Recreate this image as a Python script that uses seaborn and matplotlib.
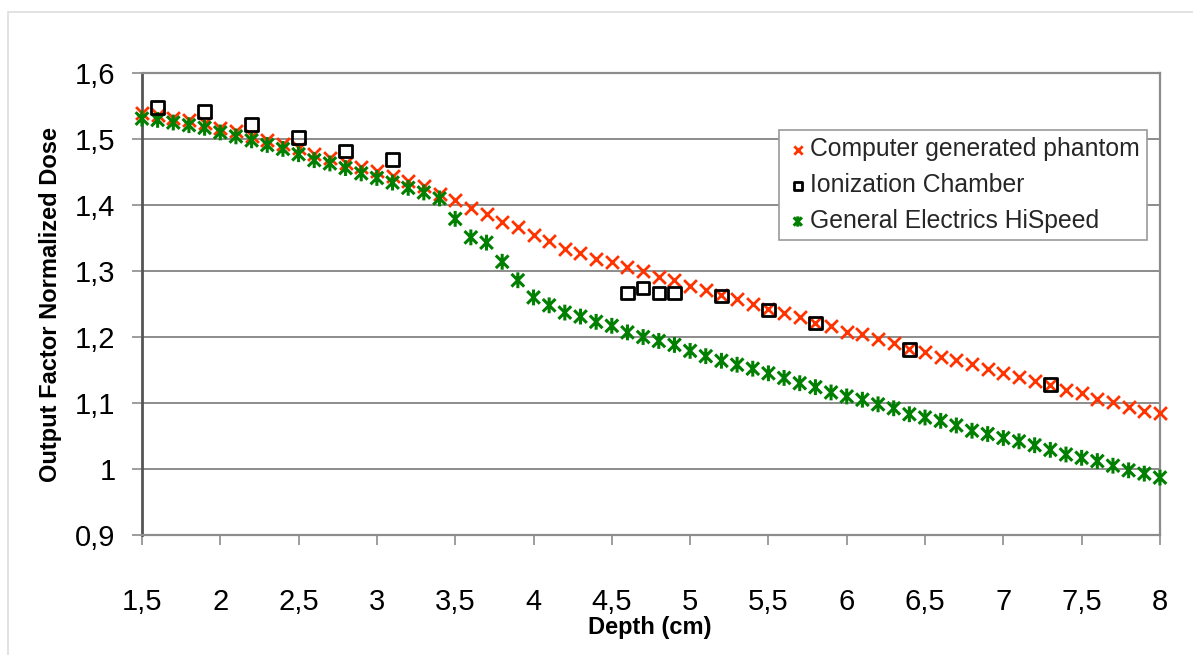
import matplotlib
matplotlib.use("Agg")
import matplotlib.pyplot as plt
from matplotlib.path import Path
from matplotlib.patches import Rectangle
import seaborn as sns
import pandas as pd

# Depth positions (cm) of the phantom and CT scanner series
depth = [1.5, 1.6, 1.7, 1.8, 1.9, 2.0, 2.1, 2.2, 2.3, 2.4, 2.5, 2.6, 2.7, 2.8,
         2.9, 3.0, 3.1, 3.2, 3.3, 3.4, 3.5, 3.6, 3.7, 3.8, 3.9, 4.0, 4.1, 4.2,
         4.3, 4.4, 4.5, 4.6, 4.7, 4.8, 4.9, 5.0, 5.1, 5.2, 5.3, 5.4, 5.5, 5.6,
         5.7, 5.8, 5.9, 6.0, 6.1, 6.2, 6.3, 6.4, 6.5, 6.6, 6.7, 6.8, 6.9, 7.0,
         7.1, 7.2, 7.3, 7.4, 7.5, 7.6, 7.7, 7.8, 7.9, 8.0]

phantom = [1.540, 1.536, 1.532, 1.529, 1.524, 1.517, 1.512, 1.505, 1.498, 1.493,
           1.487, 1.477, 1.471, 1.464, 1.457, 1.451, 1.444, 1.436, 1.429, 1.416,
           1.407, 1.395, 1.387, 1.374, 1.366, 1.355, 1.346, 1.334, 1.327, 1.318,
           1.313, 1.306, 1.300, 1.291, 1.286, 1.278, 1.271, 1.263, 1.258, 1.250,
           1.242, 1.237, 1.230, 1.221, 1.216, 1.208, 1.205, 1.197, 1.191, 1.182,
           1.177, 1.170, 1.165, 1.159, 1.152, 1.145, 1.140, 1.133, 1.128, 1.120,
           1.115, 1.106, 1.102, 1.094, 1.088, 1.085]

hispeed = [1.531, 1.529, 1.525, 1.521, 1.517, 1.510, 1.504, 1.498, 1.491, 1.485,
           1.477, 1.468, 1.463, 1.456, 1.448, 1.441, 1.434, 1.426, 1.419, 1.410,
           1.379, 1.351, 1.343, 1.314, 1.286, 1.260, 1.248, 1.237, 1.231, 1.223,
           1.217, 1.207, 1.200, 1.194, 1.188, 1.179, 1.171, 1.164, 1.158, 1.152,
           1.145, 1.138, 1.130, 1.124, 1.116, 1.110, 1.105, 1.098, 1.092, 1.083,
           1.078, 1.073, 1.066, 1.058, 1.053, 1.047, 1.042, 1.036, 1.029, 1.022,
           1.017, 1.012, 1.005, 0.998, 0.993, 0.987]

# Ionization chamber measurements
chamber_depth = [1.6, 1.9, 2.2, 2.5, 2.8, 3.1, 4.6, 4.7, 4.8, 4.9, 5.2, 5.5, 5.8, 6.4, 7.3]
chamber = [1.548, 1.542, 1.522, 1.502, 1.482, 1.469, 1.267, 1.274, 1.267, 1.267,
           1.262, 1.241, 1.221, 1.181, 1.128]

series_labels = ["Computer generated phantom", "Ionization Chamber",
                 "General Electrics HiSpeed"]

x_ticks = [1.5, 2, 2.5, 3, 3.5, 4, 4.5, 5, 5.5, 6, 6.5, 7, 7.5, 8]
x_tick_labels = ["1,5", "2", "2,5", "3", "3,5", "4", "4,5", "5", "5,5", "6",
                 "6,5", "7", "7,5", "8"]
y_ticks = [0.9, 1.0, 1.1, 1.2, 1.3, 1.4, 1.5, 1.6]
y_tick_labels = ["0,9", "1", "1,1", "1,2", "1,3", "1,4", "1,5", "1,6"]

sns.set_theme(style="white")
plt.rcParams["font.family"] = ["Liberation Sans", "DejaVu Sans"]

fig = plt.figure(figsize=(11.93, 6.55), dpi=100)
ax = fig.add_axes([0.119, 0.1832, 0.8533, 0.7053])

# light frame around the whole chart area
fig.patches.append(Rectangle((8 / 1193, -0.1), 1.2, 1.1 - 12 / 655,
                             transform=fig.transFigure, fill=False,
                             edgecolor="#dddddd", linewidth=1.2))

df_main = pd.DataFrame({"depth": depth, "phantom": phantom, "hispeed": hispeed})
df_ch = pd.DataFrame({"depth": chamber_depth, "dose": chamber})

# asterisk marker: an X crossed by a vertical bar
star = Path([(-1, -1), (1, 1), (-1, 1), (1, -1), (0, -1.25), (0, 1.25)],
            [Path.MOVETO, Path.LINETO, Path.MOVETO, Path.LINETO,
             Path.MOVETO, Path.LINETO])

sns.scatterplot(data=df_main, x="depth", y="phantom", marker="x", color="#ff3300",
                s=85, linewidth=2.0, label=series_labels[0], ax=ax,
                clip_on=False, zorder=3)
sns.scatterplot(data=df_ch, x="depth", y="dose", marker="s", color="black",
                facecolor="none", edgecolor="black", s=80, linewidth=2.0,
                label=series_labels[1], ax=ax, clip_on=False, zorder=4)
sns.scatterplot(data=df_main, x="depth", y="hispeed", marker=star, color="#007f00",
                facecolor="none", edgecolor="#007f00", s=130, linewidth=2.2,
                label=series_labels[2], ax=ax, clip_on=False, zorder=3)

ax.set_xlim(1.5, 8)
ax.set_ylim(0.9, 1.6)
ax.set_xticks(x_ticks)
ax.set_xticklabels(x_tick_labels)
ax.set_yticks(y_ticks)
ax.set_yticklabels(y_tick_labels)

ax.yaxis.grid(True, color="#8c8c8c", linewidth=1.4)
ax.xaxis.grid(False)
ax.set_axisbelow(True)

for side in ["top", "right", "bottom"]:
    ax.spines[side].set_color("#8c8c8c")
    ax.spines[side].set_linewidth(1.6)
ax.spines["left"].set_color("#555555")
ax.spines["left"].set_linewidth(2.0)

ax.tick_params(axis="x", which="major", bottom=True, length=7, width=1.2,
               color="#8c8c8c", pad=31, labelsize=21, labelcolor="black")
ax.tick_params(axis="y", which="major", left=True, length=7, width=1.2,
               color="#8c8c8c", pad=12, labelsize=21, labelcolor="black")

ax.set_xlabel("Depth (cm)", fontsize=17, fontweight="bold", color="black")
ax.set_ylabel("Output Factor Normalized Dose", fontsize=17, fontweight="bold",
              color="black")
ax.xaxis.set_label_coords(0.499, -0.176)
ax.yaxis.set_label_coords(-0.079, 0.5)

leg = ax.legend(loc="upper right", bbox_to_anchor=(0.987, 0.877), fontsize=17.8,
                frameon=True, fancybox=False, shadow=False, markerscale=0.65,
                handletextpad=0.0, borderpad=0.3, labelspacing=0.48,
                handlelength=0.95, borderaxespad=0)
leg.get_frame().set_edgecolor("#9a9a9a")
leg.get_frame().set_linewidth(1.2)
leg.get_frame().set_facecolor("white")
leg.get_frame().set_alpha(1)

fig.savefig("out.png", dpi=100)
